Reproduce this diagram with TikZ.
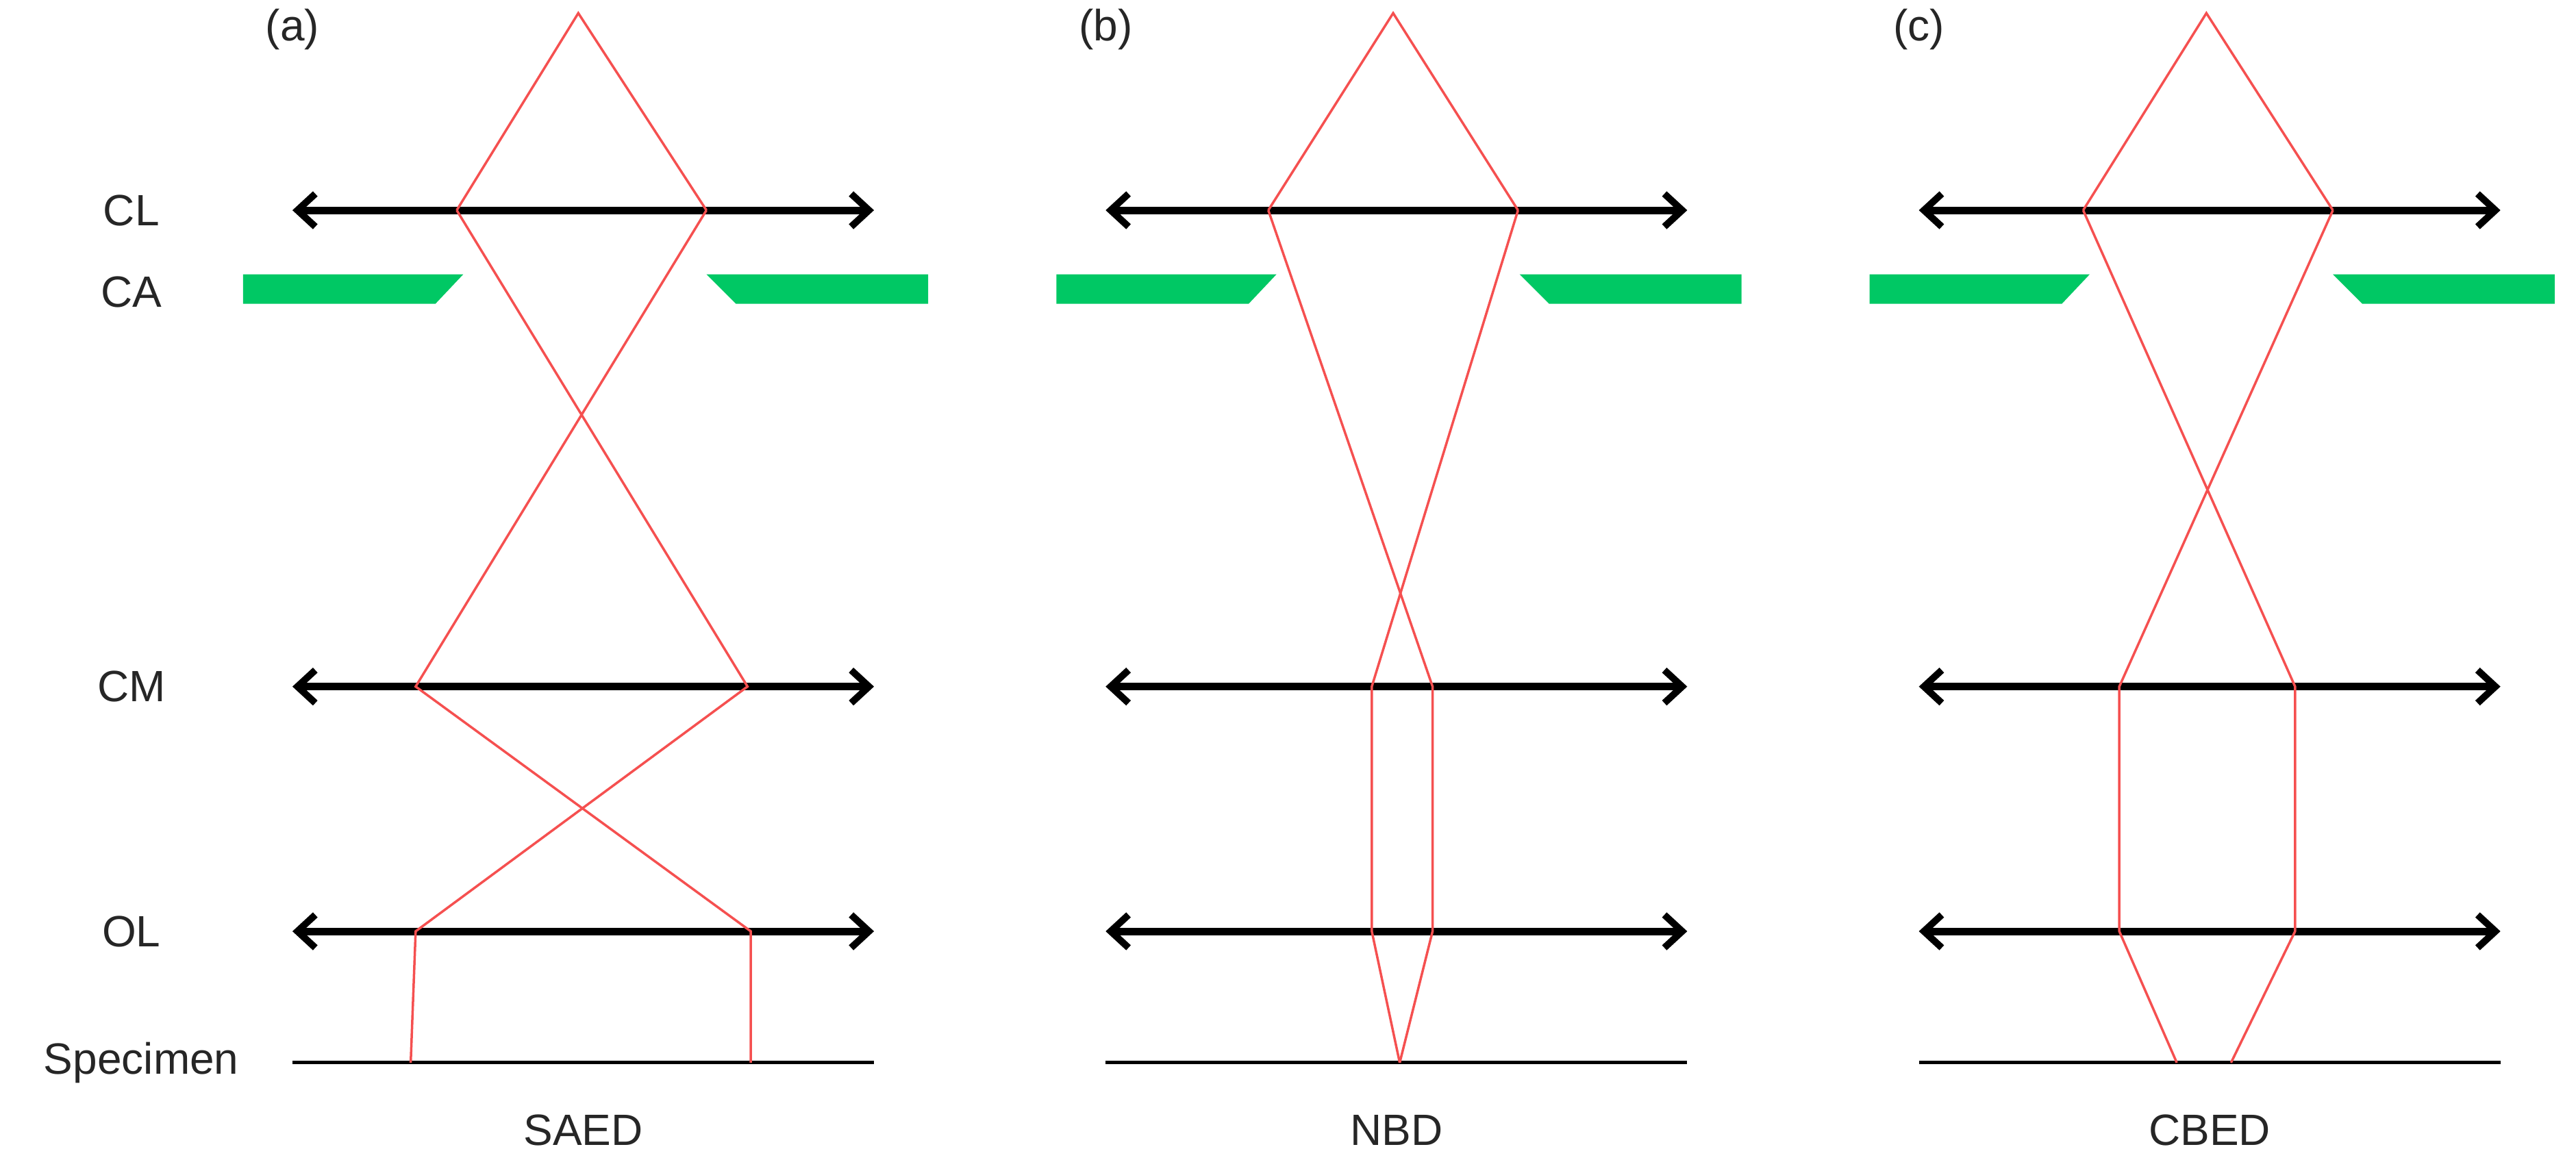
\documentclass[tikz,border=0pt]{standalone}
\usepackage{fontspec}
\setmainfont{Liberation Sans}
\usetikzlibrary{arrows.meta}
\begin{document}
\begin{tikzpicture}[x=2.3986pt,y=-2.3986pt,
  lens/.style={line width=11pt,{Straight Barb[length=26pt,width=48pt,line width=10pt]}-{Straight Barb[length=26pt,width=48pt,line width=10pt]}},
  spec/.style={line width=5pt},
  ray/.style={draw={rgb,255:red,245;green,80;blue,80},line width=3.5pt},
  ap/.style={fill={rgb,255:red,0;green,200;blue,100}},
  lbl/.style={font=\fontsize{64}{68}\selectfont,text=black!85}]
\useasboundingbox (0,0) rectangle (1568,706);
\node[lbl] (cl) at (80,128) {CL};
\node[lbl] (ca) at (80,178) {CA};
\node[lbl] (cm) at (80,418) {CM};
\node[lbl] (ol) at (80,567) {OL};
\node[lbl] (sp) at (86,647) {Specimen};
\foreach \o/\t/\n in {0/(a)/SAED,495/(b)/NBD,990/(c)/CBED}{
  \begin{scope}[xshift=\o*2.3986pt]
  \node[lbl] at (178,18) {\t};
  \node[lbl] at (355,688) {\n};
  \draw[lens] (178,128) -- (532,128);
  \draw[lens] (178,418) -- (532,418);
  \draw[lens] (178,567) -- (532,567);
  \draw[spec] (178,647) -- (532,647);
  \fill[ap] (148,167) -- (282,167) -- (265,185) -- (148,185) -- cycle;
  \fill[ap] (430,167) -- (565,167) -- (565,185) -- (448,185) -- cycle;
  \end{scope}}
% panel a
\draw[ray] (278,128) -- (352,8) -- (430,128);
\draw[ray] (278,128) -- (455,418) -- (253,567) -- (250,647);
\draw[ray] (430,128) -- (253,418) -- (457,567) -- (457,647);
% panel b
\draw[ray] (772,128) -- (848,8) -- (924,128);
\draw[ray] (772,128) -- (872,418) -- (872,567) -- (852,647);
\draw[ray] (924,128) -- (835,418) -- (835,567) -- (852,647);
% panel c
\draw[ray] (1268,128) -- (1343,8) -- (1420,128);
\draw[ray] (1268,128) -- (1397,418) -- (1397,567) -- (1358,647);
\draw[ray] (1420,128) -- (1290,418) -- (1290,567) -- (1325,647);
\end{tikzpicture}
\end{document}
